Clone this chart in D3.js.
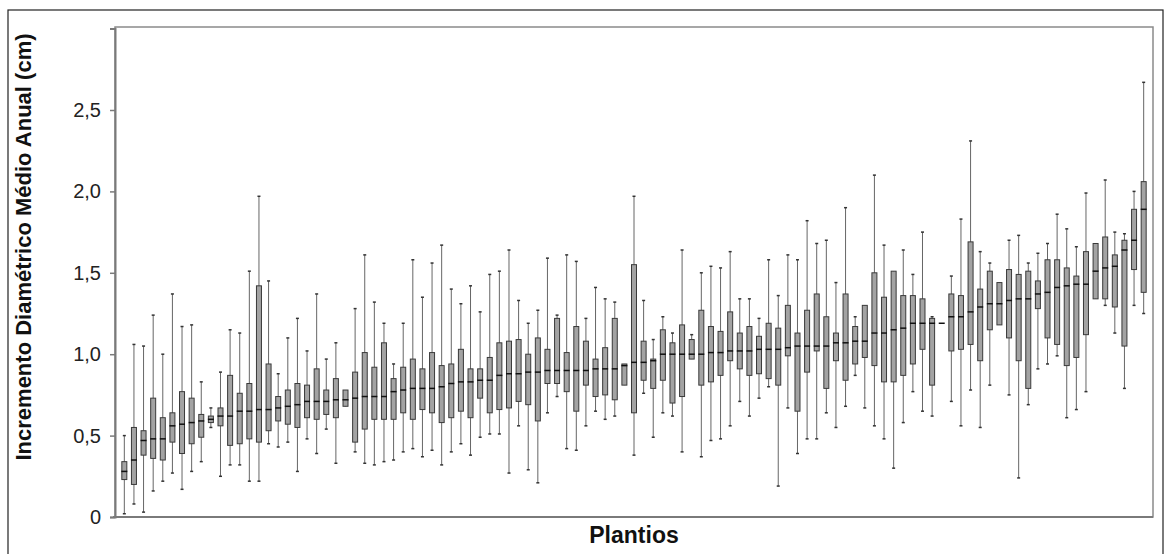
<!DOCTYPE html>
<html>
<head>
<meta charset="utf-8">
<script src="https://cdn.jsdelivr.net/npm/d3@7"></script>
<style>
  body { margin: 0; background: #fff; }
  text { font-family: "Liberation Sans", Arial, sans-serif; }
</style>
</head>
<body>
<div id="boxchart"></div>
<script>
// one entry per plantio, sorted by median as in the original figure
var whiskerHigh = [0.50,1.06,1.05,1.24,1.00,1.37,1.17,1.18,0.83,0.67,0.89,1.15,1.13,1.51,1.97,1.45,0.88,1.10,1.22,1.02,
  1.37,0.97,1.07,0.78,1.28,1.61,1.32,1.19,0.94,1.19,1.58,1.35,1.56,1.67,1.40,1.31,1.42,1.26,1.49,1.51,
  1.64,1.33,1.19,1.27,1.59,1.24,1.61,1.57,1.22,1.41,1.34,1.32,0.94,1.97,1.33,1.09,1.23,1.13,1.64,1.12,
  1.50,1.54,1.53,1.63,1.34,1.34,1.22,1.58,1.36,1.61,1.58,1.82,1.68,1.70,1.44,1.90,1.23,1.30,2.10,1.67,
  1.51,1.64,1.49,1.75,1.23,1.19,1.48,1.83,2.31,1.63,1.56,1.44,1.70,1.73,1.56,1.62,1.68,1.86,1.77,1.66,
  1.99,1.68,2.07,1.75,1.74,2.00,2.67]
var q3 = [0.34,0.55,0.53,0.73,0.61,0.64,0.77,0.73,0.63,0.62,0.67,0.87,0.76,0.82,1.42,0.94,0.74,0.78,0.82,0.81,
  0.91,0.78,0.85,0.78,0.89,1.01,0.92,1.07,0.85,0.92,0.97,0.91,1.01,0.93,0.94,1.03,0.91,0.91,0.98,1.07,
  1.08,1.09,1.00,1.10,1.03,1.22,1.01,1.17,1.08,0.97,1.04,1.22,0.94,1.55,1.08,0.97,1.15,1.07,1.18,1.09,
  1.27,1.17,1.14,1.26,1.13,1.17,1.11,1.19,1.16,1.30,1.13,1.27,1.37,1.23,1.13,1.37,1.17,1.30,1.50,1.35,
  1.51,1.36,1.36,1.34,1.22,1.19,1.37,1.36,1.69,1.40,1.51,1.44,1.52,1.49,1.51,1.45,1.58,1.58,1.53,1.48,
  1.63,1.68,1.72,1.61,1.70,1.89,2.06]
var median = [0.28,0.35,0.47,0.48,0.48,0.56,0.57,0.58,0.59,0.60,0.62,0.62,0.65,0.65,0.66,0.66,0.67,0.68,0.69,0.71,
  0.71,0.71,0.72,0.72,0.73,0.74,0.74,0.74,0.77,0.78,0.79,0.79,0.79,0.80,0.82,0.83,0.83,0.84,0.84,0.87,
  0.88,0.88,0.89,0.89,0.90,0.90,0.90,0.90,0.90,0.91,0.91,0.91,0.93,0.95,0.95,0.96,1.00,1.00,1.00,1.00,
  1.00,1.01,1.01,1.02,1.02,1.02,1.03,1.03,1.03,1.04,1.05,1.05,1.05,1.05,1.07,1.07,1.08,1.08,1.13,1.13,
  1.15,1.16,1.19,1.19,1.19,1.19,1.23,1.23,1.26,1.29,1.31,1.31,1.33,1.34,1.34,1.37,1.38,1.41,1.42,1.43,
  1.43,1.51,1.53,1.54,1.64,1.70,1.89]
var q1 = [0.23,0.20,0.38,0.36,0.35,0.46,0.39,0.45,0.49,0.58,0.56,0.44,0.45,0.48,0.46,0.53,0.59,0.57,0.55,0.61,
  0.60,0.63,0.61,0.68,0.46,0.54,0.60,0.60,0.60,0.64,0.60,0.66,0.64,0.58,0.61,0.65,0.61,0.73,0.64,0.66,
  0.67,0.71,0.69,0.59,0.82,0.82,0.77,0.65,0.81,0.74,0.75,0.72,0.81,0.64,0.84,0.79,0.84,0.70,0.74,0.97,
  0.81,0.83,0.87,0.96,0.91,0.87,0.88,0.85,0.81,0.99,0.65,0.89,1.02,0.79,0.96,0.84,0.94,0.98,0.93,0.83,
  0.83,0.87,0.94,1.03,0.81,1.19,1.02,1.03,1.06,0.96,1.15,1.18,1.10,0.96,0.79,1.28,1.10,1.06,0.93,0.98,
  1.12,1.34,1.34,1.29,1.05,1.52,1.38]
var whiskerLow = [0.02,0.08,0.03,0.16,0.22,0.27,0.17,0.28,0.34,0.55,0.25,0.32,0.32,0.22,0.22,0.45,0.43,0.46,0.28,0.48,
  0.39,0.54,0.33,0.68,0.40,0.33,0.32,0.34,0.35,0.40,0.42,0.37,0.41,0.32,0.40,0.45,0.38,0.49,0.51,0.51,
  0.27,0.56,0.29,0.21,0.64,0.74,0.42,0.41,0.56,0.65,0.60,0.62,0.81,0.38,0.76,0.49,0.64,0.62,0.40,0.97,
  0.37,0.47,0.48,0.56,0.71,0.62,0.73,0.80,0.19,0.67,0.39,0.48,0.48,0.64,0.55,0.68,0.87,0.67,0.56,0.48,
  0.30,0.58,0.77,0.65,0.62,1.19,0.71,0.56,0.78,0.55,0.81,1.18,0.75,0.24,0.69,0.91,0.94,0.99,0.61,0.66,
  0.77,1.34,1.30,1.13,0.79,1.30,1.25]
var plantios = d3.range(1, whiskerHigh.length + 1).map(function(i) { return "P" + i })
var yTicks = [0, 0.5, 1.0, 1.5, 2.0, 2.5]

var width = 1170,
    height = 554,
    frame = {left: 115, right: 1153, top: 27, bottom: 517}

var svg = d3.select("#boxchart")
  .append("svg")
    .attr("width", width)
    .attr("height", height)

// outer border around the whole figure
svg.append("rect")
  .attr("x", 8).attr("y", 10)
  .attr("width", 1155).attr("height", 560)
  .attr("fill", "none")
  .attr("stroke", "#222")
  .attr("stroke-width", 1.2)

var x = d3.scalePoint()
  .domain(plantios)
  .range([frame.left, frame.right])
  .padding(0.97)

var y = d3.scaleLinear()
  .domain([0, 3])
  .range([frame.bottom, 28.6])

// plot frame
svg.append("rect")
  .attr("x", frame.left).attr("y", frame.top)
  .attr("width", frame.right - frame.left)
  .attr("height", frame.bottom - frame.top)
  .attr("fill", "none")
  .attr("stroke", "#8a8a8a")
  .attr("stroke-width", 1.5)

// y axis
var yAxis = svg.append("g")
  .attr("transform", "translate(" + frame.left + ",0)")
  .call(d3.axisLeft(y)
    .tickValues(yTicks)
    .tickSize(5)
    .tickPadding(9)
    .tickFormat(function(d) { return d === 0 ? "0" : d3.format(".1f")(d).replace(".", ",") }))
yAxis.select(".domain").attr("stroke", "#7a7a7a").attr("stroke-width", 2)
yAxis.selectAll(".tick line").attr("stroke", "#7a7a7a").attr("stroke-width", 1.5)
yAxis.selectAll(".tick text")
  .attr("font-family", "Liberation Sans, Arial, sans-serif")
  .style("font-size", "20px")
  .attr("fill", "#222")

// bottom line of the plot
svg.append("line")
  .attr("x1", frame.left - 2).attr("x2", frame.right)
  .attr("y1", frame.bottom).attr("y2", frame.bottom)
  .attr("stroke", "#7a7a7a")
  .attr("stroke-width", 2)

// axis titles
svg.append("text")
  .attr("transform", "translate(31,247) rotate(-90)")
  .attr("text-anchor", "middle")
  .style("font-size", "22px")
  .style("font-weight", "bold")
  .attr("fill", "#111")
  .text("Incremento Diamétrico Médio Anual (cm)")

svg.append("text")
  .attr("x", 634).attr("y", 543)
  .attr("text-anchor", "middle")
  .style("font-size", "23px")
  .style("font-weight", "bold")
  .attr("fill", "#111")
  .text("Plantios")

// build the boxes
var boxes = plantios.map(function(p, i) {
  return {key: p, lo: whiskerLow[i], q1: q1[i], med: median[i], q3: q3[i], hi: whiskerHigh[i]}
})
var boxW = 5, capW = 3

var g = svg.selectAll(".box")
  .data(boxes)
  .enter()
  .append("g")
    .attr("class", "box")
    .attr("transform", function(d) { return "translate(" + x(d.key) + ",0)" })

// whiskers
g.append("line")
  .attr("x1", 0).attr("x2", 0)
  .attr("y1", function(d) { return y(d.hi) })
  .attr("y2", function(d) { return y(d.lo) })
  .attr("stroke", "#666")
  .attr("stroke-width", 1)

// whisker caps
g.filter(function(d) { return d.hi > d.q3 })
  .append("line")
  .attr("x1", -capW / 2).attr("x2", capW / 2)
  .attr("y1", function(d) { return y(d.hi) })
  .attr("y2", function(d) { return y(d.hi) })
  .attr("stroke", "#333")
  .attr("stroke-width", 1.5)
g.filter(function(d) { return d.lo < d.q1 })
  .append("line")
  .attr("x1", -capW / 2).attr("x2", capW / 2)
  .attr("y1", function(d) { return y(d.lo) })
  .attr("y2", function(d) { return y(d.lo) })
  .attr("stroke", "#333")
  .attr("stroke-width", 1.5)

g.append("rect")
  .attr("x", -boxW / 2)
  .attr("width", boxW)
  .attr("y", function(d) { return y(d.q3) })
  .attr("height", function(d) { return y(d.q1) - y(d.q3) })
  .attr("fill", "#a3a3a3")
  .attr("stroke", "#3a3a3a")
  .attr("stroke-width", 1)

// median line
g.append("line")
  .attr("x1", -boxW / 2 - 0.5).attr("x2", boxW / 2 + 0.5)
  .attr("y1", function(d) { return y(d.med) })
  .attr("y2", function(d) { return y(d.med) })
  .attr("stroke", "#111")
  .attr("stroke-width", 1.5)
</script>
</body>
</html>
